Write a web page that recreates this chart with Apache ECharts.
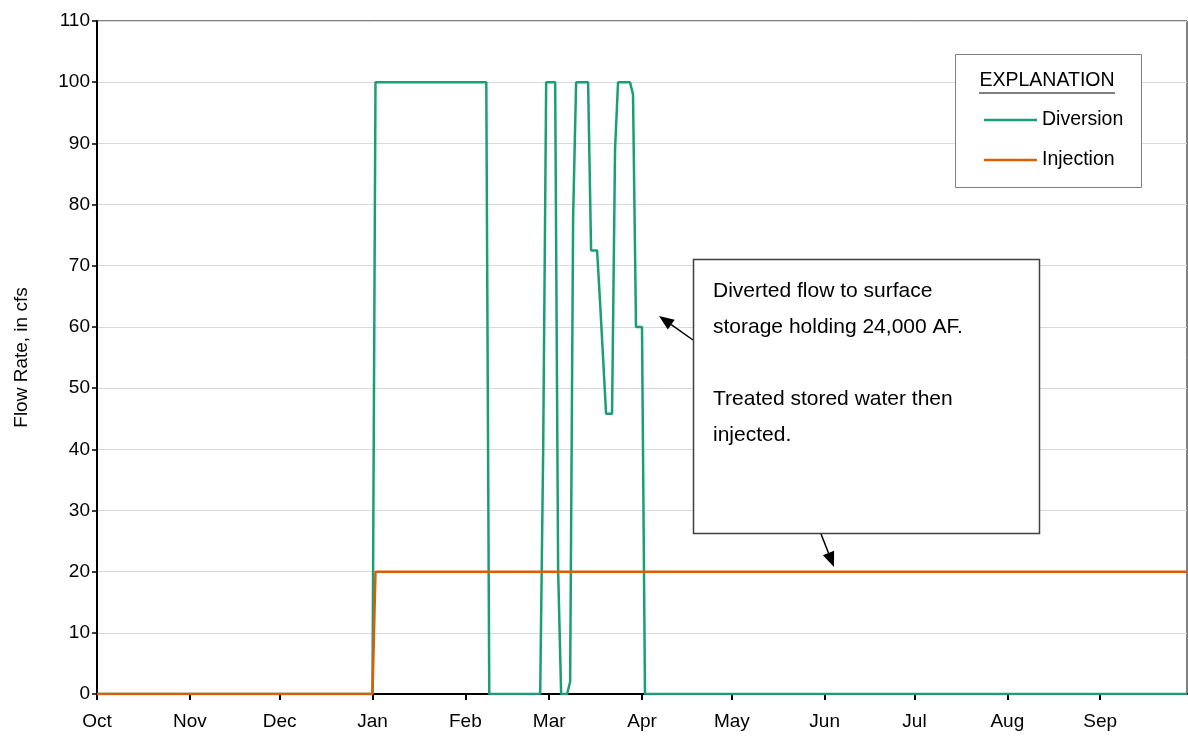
<!DOCTYPE html>
<html>
<head>
<meta charset="utf-8">
<script src="https://cdn.jsdelivr.net/npm/echarts@6/dist/echarts.min.js"></script>
<style>
  html, body { margin: 0; padding: 0; background: #fff; }
  #chart { width: 1188px; height: 740px; }
</style>
</head>
<body>
<div id="chart"></div>
<script>
// Water year, day 0 = Oct 1, day 364 = Sep 30
const monthLabels = ['Oct', 'Nov', 'Dec', 'Jan', 'Feb', 'Mar', 'Apr', 'May', 'Jun', 'Jul', 'Aug', 'Sep'];
const monthStartDays = [0, 31, 61, 92, 123, 151, 182, 212, 243, 273, 304, 335];
const yearEndDay = 364;

// Diversion to surface storage, cfs
const diversionDays = [0, 92, 93, 130, 131, 148, 149, 150, 153, 154, 155, 157, 158, 159, 160, 164, 165, 167, 168, 169, 170, 172, 173, 174, 178, 179, 180, 182, 183, 364];
const diversionFlow = [0, 0, 100, 100, 0, 0, 40, 100, 100, 20, 0, 0, 2, 78, 100, 100, 72.5, 72.5, 64, 55, 45.8, 45.8, 89, 100, 100, 98, 60, 60, 0, 0];

// Injection of treated stored water, cfs
const injectionDays = [0, 92, 93, 364];
const injectionFlow = [0, 0, 20, 20];

const seriesNames = ['Diversion', 'Injection'];
const seriesColors = ['#1b9e77', '#d95f02'];

const FONT = "'Liberation Sans', Arial, sans-serif";

function pairs(xs, ys) { return xs.map((x, i) => [x, ys[i]]); }

// Arrow (shaft + filled head) from (x1,y1) to tip (x2,y2)
function arrow(x1, y1, x2, y2) {
  const dx = x2 - x1, dy = y2 - y1;
  const len = Math.hypot(dx, dy);
  const ux = dx / len, uy = dy / len;
  const headLen = 15, headHalf = 6;
  const bx = x2 - ux * headLen, by = y2 - uy * headLen;
  return [
    { type: 'line', z: 5, shape: { x1, y1, x2: bx, y2: by }, style: { stroke: '#000', lineWidth: 1.5 } },
    { type: 'polygon', z: 5, shape: { points: [[x2, y2], [bx - uy * headHalf, by + ux * headHalf], [bx + uy * headHalf, by - ux * headHalf]] }, style: { fill: '#000' } }
  ];
}

const chart = echarts.init(document.getElementById('chart'), null, { renderer: 'canvas' });

const option = {
  animation: false,
  backgroundColor: '#fff',
  textStyle: { fontFamily: FONT },
  grid: { left: 97, right: 1, top: 21, bottom: 46, show: true, borderColor: '#000', borderWidth: 1, backgroundColor: 'transparent' },
  xAxis: {
    type: 'value',
    min: 0,
    max: yearEndDay,
    axisLine: { show: true, lineStyle: { color: '#000', width: 2 } },
    axisTick: { show: true, customValues: monthStartDays, length: 6, lineStyle: { color: '#000', width: 2 } },
    axisLabel: {
      customValues: monthStartDays,
      formatter: v => monthLabels[monthStartDays.indexOf(v)],
      fontSize: 19, color: '#000', margin: 18, fontFamily: FONT
    },
    splitLine: { show: false }
  },
  yAxis: {
    type: 'value',
    min: 0,
    max: 110,
    interval: 10,
    name: 'Flow Rate, in cfs',
    nameLocation: 'middle',
    nameGap: 66,
    nameTextStyle: { fontSize: 19, color: '#000', fontFamily: FONT },
    axisLine: { show: true, lineStyle: { color: '#000', width: 2 } },
    axisTick: { show: true, length: 5, lineStyle: { color: '#000', width: 1.5 } },
    axisLabel: { fontSize: 19, color: '#000', margin: 7, fontFamily: FONT },
    splitLine: { show: true, lineStyle: { color: '#d9d9d9', width: 1 } }
  },
  legend: {
    data: seriesNames,
    orient: 'vertical',
    left: 979,
    top: 105,
    icon: 'rect',
    itemWidth: 53,
    itemHeight: 2.5,
    itemGap: 20,
    textStyle: { fontSize: 19.5, color: '#000', fontFamily: FONT }
  },
  series: [
    {
      name: seriesNames[0], type: 'line', data: pairs(diversionDays, diversionFlow),
      showSymbol: false, symbol: 'none', color: seriesColors[0],
      lineStyle: { color: seriesColors[0], width: 2.5 }, z: 2
    },
    {
      name: seriesNames[1], type: 'line', data: pairs(injectionDays, injectionFlow),
      showSymbol: false, symbol: 'none', color: seriesColors[1],
      lineStyle: { color: seriesColors[1], width: 2.5 }, z: 3
    }
  ],
  graphic: [
    // Explanation box
    { type: 'rect', z: 1, shape: { x: 955.5, y: 54.5, width: 186, height: 133 }, style: { fill: '#fff', stroke: '#808080', lineWidth: 1 } },
    { type: 'text', z: 5, x: 1047, y: 81, style: { text: 'EXPLANATION', fontSize: 19.5, fontFamily: FONT, fill: '#000', textAlign: 'center', textVerticalAlign: 'middle' } },
    { type: 'line', z: 5, shape: { x1: 979, y1: 93, x2: 1115, y2: 93 }, style: { stroke: '#000', lineWidth: 1 } },
    // Note box
    { type: 'rect', z: 1, shape: { x: 693.5, y: 259.5, width: 346, height: 274 }, style: { fill: '#fff', stroke: '#404040', lineWidth: 1.5 } },
    { type: 'text', z: 5, x: 713, y: 273, style: {
        text: 'Diverted flow to surface\nstorage holding 24,000 AF.\n\nTreated stored water then\ninjected.',
        fontSize: 21, lineHeight: 36, fontFamily: FONT, fill: '#000', textAlign: 'left', textVerticalAlign: 'top' } },
    ...arrow(693, 340, 659, 316),
    ...arrow(821, 534, 834, 567)
  ]
};

chart.setOption(option);
</script>
</body>
</html>
